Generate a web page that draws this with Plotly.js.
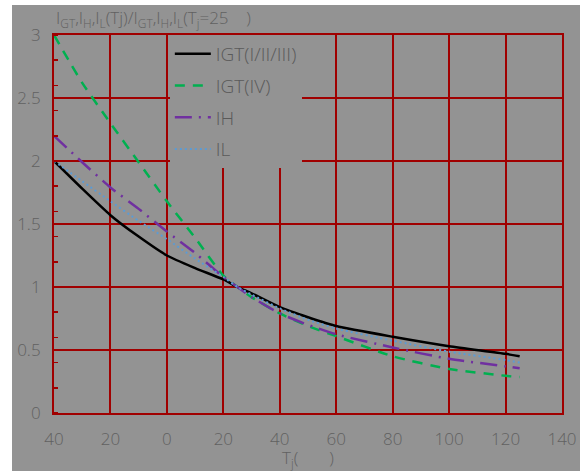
<!DOCTYPE html>
<html>
<head>
<meta charset="utf-8">
<script src="https://cdn.plot.ly/plotly-3.0.1.min.js"></script>
<style>
  html, body { margin: 0; padding: 0; background: #ffffff; }
  #chart { position: absolute; left: 12px; top: 5px; width: 568px; height: 466px; }
</style>
</head>
<body>
<div id="chart"></div>
<script>
// Junction temperature Tj (°C)
const tj = [-40, -30, -20, -10, 0, 10, 20, 25, 30, 40, 50, 60, 80, 100, 120, 125];

// Normalised values (relative to Tj = 25)
const igtI_II_III = [2.00, 1.78, 1.57, 1.40, 1.25, 1.15, 1.06, 1.00, 0.95, 0.84, 0.76, 0.69, 0.605, 0.53, 0.47, 0.45];
const igtIV       = [3.00, 2.62, 2.30, 1.99, 1.68, 1.39, 1.09, 1.00, 0.92, 0.79, 0.69, 0.61, 0.45, 0.35, 0.295, 0.285];
const ih          = [2.20, 1.99, 1.79, 1.62, 1.44, 1.27, 1.08, 1.00, 0.92, 0.79, 0.70, 0.625, 0.52, 0.43, 0.37, 0.355];
const il          = [2.00, 1.84, 1.68, 1.525, 1.38, 1.225, 1.08, 1.00, 0.94, 0.83, 0.74, 0.67, 0.574, 0.487, 0.42, 0.40];

const seriesNames = ['IGT(I/II/III)', 'IGT(IV)', 'IH', 'IL'];

// Axis ticks
const xTickVals = [-40, -20, 0, 20, 40, 60, 80, 100, 120, 140];
const xTickText = ['40', '20', '0', '20', '40', '60', '80', '100', '120', '140'];
const yTickVals = [0, 0.5, 1, 1.5, 2, 2.5, 3];
const yTickText = ['0', '0.5', '1', '1.5', '2', '2.5', '3'];

const bg = '#939393';
const gridRed = '#a00000';
const textGray = '#616161';
const fontFam = '"Open Sans", "Liberation Sans", sans-serif';

const traces = [
  { x: tj, y: igtI_II_III, name: seriesNames[0], legendgroup: 'a', mode: 'lines',
    line: { color: '#000000', width: 2.5, shape: 'spline', smoothing: 0.6 } },
  { x: tj, y: igtIV, name: seriesNames[1], legendgroup: 'b', mode: 'lines',
    line: { color: '#00b050', width: 2.5, dash: '10px,8px', shape: 'spline', smoothing: 0.6 } },
  { x: tj, y: ih, name: seriesNames[2], legendgroup: 'c', mode: 'lines',
    line: { color: '#7030a0', width: 2.5, dash: '17px,7px,2px,7px', shape: 'spline', smoothing: 0.6 } },
  { x: tj, y: il, name: seriesNames[3], legendgroup: 'd', mode: 'lines',
    line: { color: '#5b9bd5', width: 2, dash: '2px,3px', shape: 'spline', smoothing: 0.6 } }
];

const layout = {
  width: 568, height: 466,
  paper_bgcolor: bg, plot_bgcolor: bg,
  margin: { l: 42, r: 18, t: 30, b: 58 },
  font: { family: fontFam, color: textGray, size: 17, weight: 300 },
  showlegend: true,
  legend: {
    x: 0.228, y: 1.0, xanchor: 'left', yanchor: 'top',
    bgcolor: bg, borderwidth: 0, traceorder: 'grouped',
    font: { family: fontFam, size: 19, color: '#5a5a5a', weight: 300 },
    tracegroupgap: 4, itemwidth: 36
  },
  xaxis: {
    range: [-40, 140], tickmode: 'array', tickvals: xTickVals, ticktext: xTickText,
    showgrid: true, gridcolor: gridRed, gridwidth: 2,
    showline: true, linecolor: gridRed, linewidth: 2, mirror: true,
    zeroline: false, ticks: '', ticklabelstandoff: 10,
    tickfont: { family: fontFam, size: 17, color: textGray, weight: 300 },
    title: { text: 'T<sub>j</sub>(       )', font: { family: fontFam, size: 17, color: textGray, weight: 300 }, standoff: 4 }
  },
  yaxis: {
    range: [0, 3], tickmode: 'array', tickvals: yTickVals, ticktext: yTickText,
    showgrid: true, gridcolor: gridRed, gridwidth: 2,
    showline: true, linecolor: gridRed, linewidth: 2, mirror: true,
    zeroline: false, ticks: '', ticklabelstandoff: 8,
    tickfont: { family: fontFam, size: 17, color: textGray, weight: 300 },
    minor: { dtick: 0.2, tick0: 0, ticks: 'inside', ticklen: 4, tickcolor: gridRed, tickwidth: 1.5, showgrid: false }
  },
  annotations: [{
    xref: 'paper', yref: 'paper', x: 0, y: 1, xanchor: 'left', yanchor: 'bottom',
    xshift: 0, yshift: 2, showarrow: false,
    text: 'I<sub>GT</sub>,I<sub>H</sub>,I<sub>L</sub>(Tj)/I<sub>GT</sub>,I<sub>H</sub>,I<sub>L</sub>(T<sub>j</sub>=25    )',
    font: { family: fontFam, size: 17, color: textGray, weight: 300 }
  }]
};

Plotly.newPlot('chart', traces, layout, { staticPlot: true, displayModeBar: false });
</script>
</body>
</html>
